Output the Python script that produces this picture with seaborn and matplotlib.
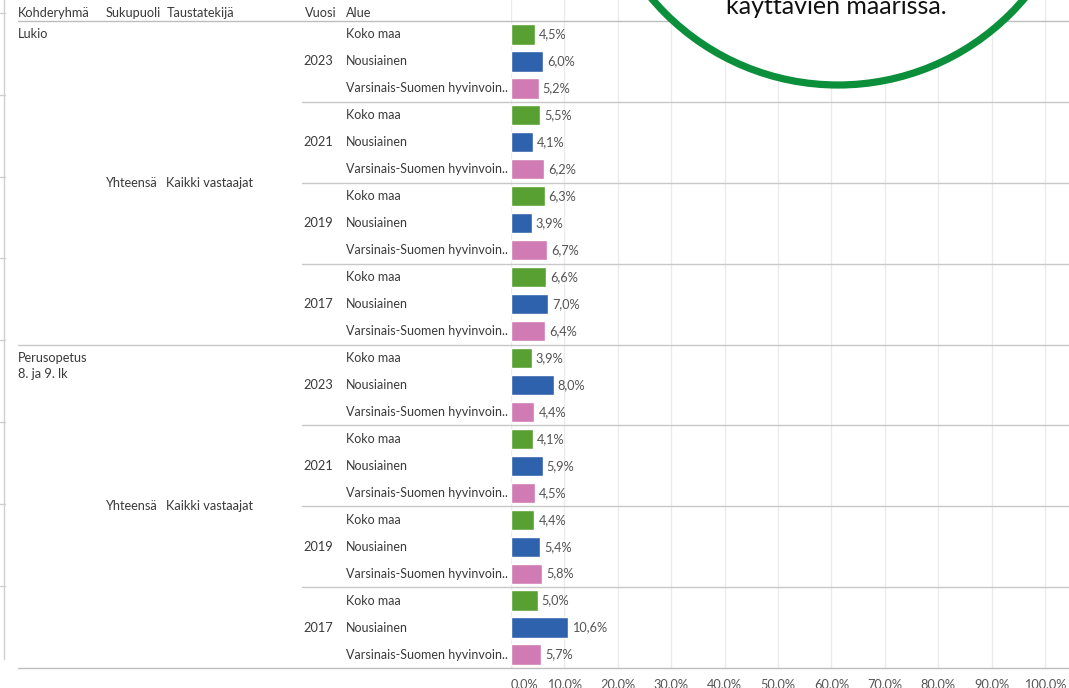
import matplotlib
matplotlib.use("Agg")
import matplotlib.pyplot as plt
import matplotlib.transforms as mtransforms
from matplotlib.lines import Line2D
from matplotlib.patches import Circle
import pandas as pd
import seaborn as sns

# ---- data -------------------------------------------------------------
groups = ["Lukio", "Perusopetus\n8. ja 9. lk"]
years = ["2023", "2021", "2019", "2017"]
regions = ["Koko maa", "Nousiainen", "Varsinais-Suomen hyvinvoin.."]
sukupuoli = "Yhteensä"
taustatekija = "Kaikki vastaajat"

# share (%) per group/year, in order Lukio 2023..2017, Perusopetus 2023..2017
koko_maa = [4.5, 5.5, 6.3, 6.6, 3.9, 4.1, 4.4, 5.0]
nousiainen = [6.0, 4.1, 3.9, 7.0, 8.0, 5.9, 5.4, 10.6]
varsinais_suomi = [5.2, 6.2, 6.7, 6.4, 4.4, 4.5, 5.8, 5.7]

x_ticks = [0, 10, 20, 30, 40, 50, 60, 70, 80, 90, 100]
headers = ["Kohderyhmä", "Sukupuoli", "Taustatekijä", "Vuosi", "Alue"]
callout = "käyttävien määrissä."

colors = {"Koko maa": "#58a031", "Nousiainen": "#2f62ad",
          "Varsinais-Suomen hyvinvoin..": "#d07bb4"}

# ---- long table -------------------------------------------------------
rows = []
series = [koko_maa, nousiainen, varsinais_suomi]
for gi, g in enumerate(groups):
    for yi, yr in enumerate(years):
        for ri, reg in enumerate(regions):
            idx = gi * len(years) + yi
            rows.append({"row": f"{gi}-{yr}-{ri}", "Kohderyhmä": g,
                         "Vuosi": yr, "Alue": reg,
                         "value": series[ri][idx]})
df = pd.DataFrame(rows)

# ---- figure -----------------------------------------------------------
W, H = 1069, 688
FS = 9.2
sns.set_theme(style="white")
plt.rcParams["font.family"] = ["Lato", "DejaVu Sans"]
fig = plt.figure(figsize=(W / 100, H / 100), dpi=100)

def fx(px):
    return px / W

def fy(py):
    return 1 - py / H

x0_px, x100_px = 511, 1045
px_per_pct = (x100_px - x0_px) / 100
ax = fig.add_axes([fx(x0_px), fy(668), fx(W - x0_px), fy(0) - fy(668)])

sns.barplot(data=df, x="value", y="row", hue="Alue", palette=colors,
            dodge=False, width=0.75, order=list(df["row"]), ax=ax,
            legend=False, saturation=1)

row_h = 647 / 24
ax.set_xlim(0, (W - x0_px) / px_per_pct)
ax.set_ylim(23.5, -0.5 - 21 / row_h)
for s in ax.spines.values():
    s.set_visible(False)
ax.set_xlabel("")
ax.set_ylabel("")
ax.set_yticks([])
ax.set_xticks(x_ticks)
ax.set_xticklabels([f"{t:.1f}%".replace(".", ",") for t in x_ticks],
                   fontsize=FS, color="#555555")
ax.get_xticklabels()[0].set_horizontalalignment("left")
ax.tick_params(axis="x", length=0, pad=7)
ax.grid(axis="x", color="#ebebeb", lw=1)
ax.set_axisbelow(True)

# value labels
for i, v in enumerate(df["value"]):
    ax.text(v + 4 / px_per_pct, i, f"{v:.1f}%".replace(".", ","),
            va="center", ha="left", fontsize=FS, color="#555555")

# ---- row headers ------------------------------------------------------
tr = mtransforms.blended_transform_factory(fig.transFigure, ax.transData)
txt = dict(color="#3a3a3a", va="center", transform=tr)

for i, r in df.iterrows():
    fig.text(fx(346), i, r["Alue"], ha="left", fontsize=9.0, **txt)
    if i % 3 == 1:
        fig.text(fx(333), i, r["Vuosi"], ha="right", fontsize=FS, **txt)

fig.text(fx(18), 0, groups[0], ha="left", fontsize=FS, **txt)
for k, line in enumerate(groups[1].split("\n")):
    fig.text(fx(18), 12 + k * 16 / row_h, line, ha="left", fontsize=FS, **txt)
for c in (5.5, 17.5):
    fig.text(fx(106), c, sukupuoli, ha="left", fontsize=FS, **txt)
    fig.text(fx(166), c, taustatekija, ha="left", fontsize=FS, **txt)

hdr_x = [18, 106, 167, 305, 346]
for hx, h in zip(hdr_x, headers):
    fig.text(fx(hx), fy(13), h, ha="left", va="center", fontsize=FS,
             color="#3a3a3a")

# ---- separators -------------------------------------------------------
def hline(y, start_px, color="#c8c8c8"):
    fig.add_artist(Line2D([fx(start_px), 1], [y, y], transform=tr,
                          color=color, lw=1, zorder=3))

hline(-0.5, 18, "#bdbdbd")
for b in (2.5, 5.5, 8.5, 14.5, 17.5, 20.5):
    hline(b, 302)
hline(11.5, 18)
hline(23.5, 18, "#bdbdbd")

# left edge remnant
fig.add_artist(Line2D([fx(4), fx(4)], [fy(0), fy(659)], color="#cfcfcf", lw=1))
for k in range(8):
    yk = 13 + k * 81.8
    fig.add_artist(Line2D([fx(0), fx(5)], [fy(yk), fy(yk)], color="#cfcfcf", lw=1))

# ---- callout circle ---------------------------------------------------
circ = Circle((8.38, (H + 159) / 100), 2.44, transform=fig.dpi_scale_trans,
              facecolor="white", edgecolor="#0b8f3a", lw=5.2, zorder=10)
fig.add_artist(circ)
fig.text(fx(836), fy(14.5), callout, ha="center", va="baseline",
         fontsize=18, color="#111111", zorder=11)

fig.savefig("out.png", dpi=100)
